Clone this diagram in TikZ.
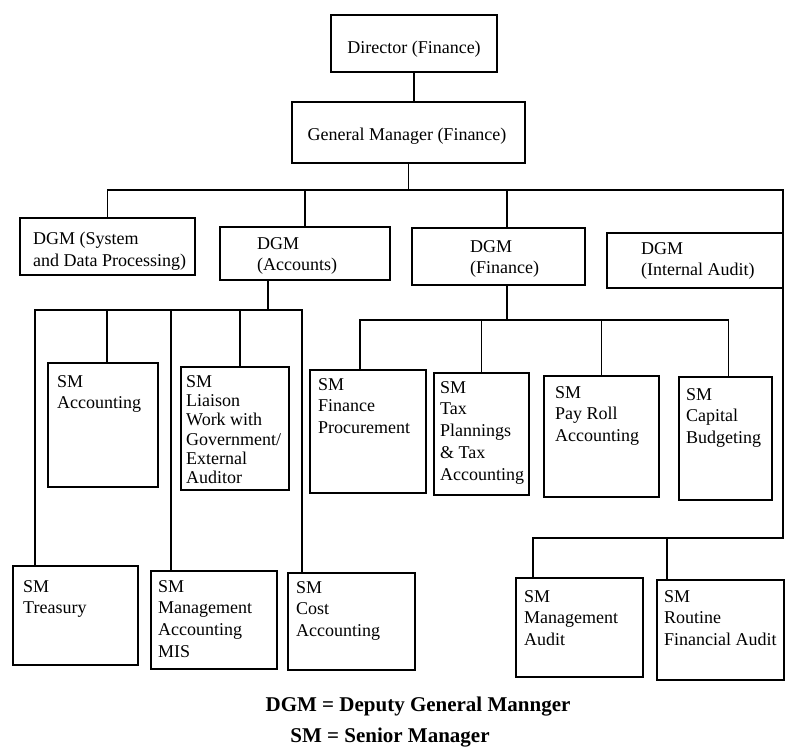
\documentclass[tikz,border=0pt]{standalone}
\usepackage{fontspec}
\setmainfont{Liberation Serif}
\usetikzlibrary{fit}
\begin{document}
\begin{tikzpicture}[x=1pt,y=-1pt,
  box/.style={draw, line width=1.7pt, inner sep=0pt, outer sep=0pt},
  txt/.style={inner sep=0pt, anchor=north west, align=left, font=\fontsize{18}{21.8}\selectfont},
  ctxt/.style={inner sep=0pt, font=\fontsize{18}{21.8}\selectfont},
  conn/.style={line width=1.6pt},
  legend/.style={inner sep=0pt, font=\bfseries\fontsize{21}{24}\selectfont}]
\useasboundingbox (0,0) rectangle (786,751);

% boxes
\node[box, fit={(331,15)(497,72)}] (dir) {};
\node[box, fit={(292,102)(525,163)}] (gm) {};

\node[box, fit={(20,218)(195,275)}] (dgm1) {};
\node[box, fit={(220,227)(390,280)}] (dgm2) {};
\node[box, fit={(412,228)(585,285)}] (dgm3) {};
\node[box, fit={(607,233)(783,288)}] (dgm4) {};

\node[box, fit={(48,363)(158,487)}] (smacc) {};
\node[box, fit={(181,367)(289,490)}] (liaison) {};
\node[box, fit={(310,370)(426,493)}] (fp) {};
\node[box, fit={(434,373)(529,495)}] (tax) {};
\node[box, fit={(544,376)(659,497)}] (pay) {};
\node[box, fit={(679,377)(772,500)}] (cap) {};

\node[box, fit={(13,566)(138,665)}] (treasury) {};
\node[box, fit={(151,571)(277,669)}] (mis) {};
\node[box, fit={(288,573)(415,670)}] (cost) {};
\node[box, fit={(516,578)(643,677)}] (maudit) {};
\node[box, fit={(657,580)(784,680)}] (routine) {};

% texts
\node[ctxt] (dirt) at (414,49) {Director (Finance)};
\node[ctxt] (gmt) at (407,136) {General Manager (Finance)};

\node[txt] (dgm1t) at (33,232) {DGM (System\\and Data Processing)};
\node[txt] (dgm2t) at (257,237) {DGM\\(Accounts)};
\node[txt] (dgm3t) at (470,240) {DGM\\(Finance)};
\node[txt] (dgm4t) at (641,242) {DGM\\(Internal Audit)};

\node[txt] (smacct) at (57,375) {SM\\Accounting};
\node[txt, font=\fontsize{18}{19.3}\selectfont] (liaisont) at (186,375) {SM\\Liaison\\Work with\\Government/\\External\\Auditor};
\node[txt] (fpt) at (318,378) {SM\\Finance\\Procurement};
\node[txt] (taxt) at (440,381) {SM\\Tax\\Plannings\\\& Tax\\Accounting};
\node[txt] (payt) at (555,386) {SM\\Pay Roll\\Accounting};
\node[txt] (capt) at (686,388) {SM\\Capital\\Budgeting};

\node[txt] (treasuryt) at (23,580) {SM\\Treasury};
\node[txt] (mist) at (158,580) {SM\\Management\\Accounting\\MIS};
\node[txt] (costt) at (296,581) {SM\\Cost\\Accounting};
\node[txt] (maudixt) at (524,590) {SM\\Management\\Audit};
\node[txt] (routinet) at (664,590) {SM\\Routine\\Financial Audit};

% legend
\node[legend] (leg1) at (418,707) {DGM = Deputy General Mannger};
\node[legend] (leg2) at (390,738) {SM = Senior Manager};

% connectors
\draw[conn] (dir.south) -- (dir.south |- gm.north);
\coordinate (b0) at (408,190);
\draw[conn] (gm.south) -- (gm.south |- b0);
\draw[conn] (dgm1.north) -- (dgm1.north |- b0) -- (b0 -| dgm4.north east) -- (dgm4.north east);
\draw[conn] (dgm2.north) -- (dgm2.north |- b0);
\draw[conn] ([xshift=8.5pt]dgm3.north) -- ([xshift=8.5pt]dgm3.north |- b0);

% accounts
\coordinate (b1) at (268,310);
\draw[conn] (b1 |- dgm2.south) -- (b1);
\draw[conn] ([xshift=22pt]treasury.north west) -- ([xshift=22pt]treasury.north west |- b1)
  -- ([xshift=14pt]cost.north west |- b1) -- ([xshift=14pt]cost.north west);
\draw[conn] ([xshift=4pt]smacc.north) -- ([xshift=4pt]smacc.north |- b1);
\draw[conn] ([xshift=20pt]mis.north west) -- ([xshift=20pt]mis.north west |- b1);
\draw[conn] ([xshift=5pt]liaison.north) -- ([xshift=5pt]liaison.north |- b1);

% finance
\coordinate (b2) at (507,320);
\draw[conn] (b2 |- dgm3.south) -- (b2);
\draw[conn] ([xshift=-8pt]fp.north) -- ([xshift=-8pt]fp.north |- b2)
  -- ([xshift=3pt]cap.north |- b2) -- ([xshift=3pt]cap.north);
\draw[conn] (tax.north) -- (tax.north |- b2);
\draw[conn] (pay.north) -- (pay.north |- b2);

% internal audit
\coordinate (b3) at (0,538);
\draw[conn] (dgm4.south east) -- (dgm4.south east |- b3)
  -- ([xshift=17pt]maudit.north west |- b3) -- ([xshift=17pt]maudit.north west);
\draw[conn] ([xshift=10pt]routine.north west) -- ([xshift=10pt]routine.north west |- b3);
\end{tikzpicture}
\end{document}
